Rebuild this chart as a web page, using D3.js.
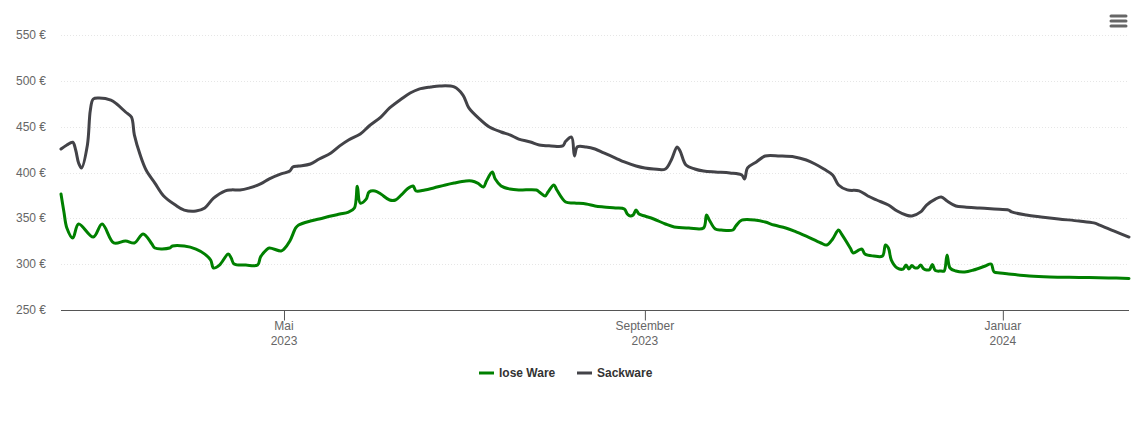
<!DOCTYPE html>
<html>
<head>
<meta charset="utf-8">
<script src="https://cdn.jsdelivr.net/npm/d3@7"></script>
<style>
  body { margin: 0; background: #fff; }
  text { font-family: "Liberation Sans", Arial, sans-serif; }
</style>
</head>
<body>
<div id="viz"></div>
<script>
// price history, day offsets counted from the start date
const startDate = new Date(2023, 1, 14);
const endDate = new Date(2024, 1, 13);

const loseDays = [0,1,2,4,6,11,14,18,22,25,28,31,32,37,38,42,46,49,51,52,54,57,58,59,63,67,68,70,71,75,76,78,80,81,85,88,92,95,98,100,101,102,104,105,107,109,112,114,116,118,120,121,124,127,131,134,138,140,142,144,145,147,148,150,153,156,162,163,165,166,168,169,172,175,179,182,185,189,192,193,194,195,196,197,199,202,206,209,214,219,220,221,223,225,229,230,232,237,240,243,247,250,254,259,261,263,265,266,269,270,272,273,274,277,280,281,282,283,285,287,288,289,290,291,292,293,294,295,296,297,298,300,301,302,303,305,308,311,315,317,318,320,323,330,337,347,357,364];
const loseValues = [376.5,357,339.5,328.5,343.8,329.6,343.8,323.1,325.3,323.1,333,322,317.6,317.6,319.8,319.8,316.5,311,304.5,295.8,299,311,306.7,300.2,299,299,307.8,315.5,317.6,314.4,316.5,325.3,339.5,342.7,347.1,349.3,352.5,354.7,356.9,361.3,385,366.7,371,378.7,379.8,376.5,370,370,375.5,382,385.3,379.8,380.9,383.1,386.4,388.5,390.7,390.7,388.5,384.2,390.7,400.5,392.9,385.3,382,380.9,380.9,378.7,374.4,378.7,386.4,380.9,367.8,366.7,365.6,363.5,362.4,361.3,360.2,354.7,352.5,353.6,359.1,354.7,352.5,349.3,343.8,340.6,339.5,339.5,353.6,348,338.4,337.3,337.3,341.6,348,348,346,342.7,339.5,336,330.5,323.1,320.9,327.5,337.3,333,317.6,312.2,315.5,316.5,311,308.9,308.9,320.9,317.6,304.5,295.8,294.7,299,294.7,298.5,296,296,299,295,293.6,294,299.6,293,292.5,292.5,310,295.8,292.5,291.5,293.6,298,300.2,291.5,290.4,289.3,287.1,286,285.5,285,284.4];

const sackDays = [0,2,4,5,6,7,9,10,11,13,17,19,22,24,25,27,29,32,35,39,42,46,49,52,56,58,61,64,68,71,75,78,79,81,85,88,92,95,98,102,105,109,112,116,119,122,126,129,134,137,139,143,146,150,153,156,160,163,167,171,172,174,175,176,179,182,185,189,192,196,199,202,206,208,210,211,213,216,219,223,228,232,233,234,237,240,245,250,254,257,260,263,265,268,272,275,278,282,285,288,290,293,295,298,300,302,305,308,313,318,323,324,329,334,340,347,352,354,359,364];
const sackValues = [425.6,430,433,424.5,410.4,405,430,468,480.2,481.3,479,474.7,466,460.5,441,419,402.7,388.5,374.4,364.5,359,358,361.3,372,380,381,381,383,387.5,393,398.4,401.6,406,407,409.3,414.7,421.3,429,435.5,442,450.7,460.5,470.4,480.2,486.7,491,493.3,494.4,493.3,484.5,470.4,457.3,449.6,444.2,441,436.5,433.3,430,429,429,434,438.7,418,428,427.8,425.6,421.3,415.8,411.5,407.1,404.9,403.8,403.8,413.6,427.8,423.5,408.2,403.8,401.6,400.5,399.5,397.3,393,405,411.5,418,418,417,413.6,409.3,403.8,397.3,386.4,381,380,374.4,370,364.5,358,353.6,352.5,357,364.5,371,373.3,368.9,363.5,362.4,361.3,360.2,359,357,353.6,351.5,349.3,347.1,345,342.7,336,329.6];

const yTicks = [250, 300, 350, 400, 450, 500, 550];
const xTicks = [new Date(2023, 4, 1), new Date(2023, 8, 1), new Date(2024, 0, 1)];
const monthNames = ["Januar","Februar","März","April","Mai","Juni","Juli","August","September","Oktober","November","Dezember"];

const seriesNames = ["lose Ware", "Sackware"];
const seriesColors = ["#008000", "#434348"];

const width = 1140, height = 434;
const margin = {left: 61, right: 11, top: 35, bottom: 124};

const svg = d3.select("#viz")
  .append("svg")
  .attr("width", width)
  .attr("height", height);

function toDate(d) {
  return d3.timeDay.offset(startDate, d);
}

const x = d3.scaleTime()
  .domain([startDate, endDate])
  .range([margin.left, width - margin.right]);

const y = d3.scaleLinear()
  .domain([250, 550])
  .range([height - margin.bottom, margin.top]);

// grid
svg.append("g")
  .selectAll("line")
  .data(yTicks.filter(t => t > 250))
  .enter()
  .append("line")
  .attr("x1", margin.left)
  .attr("x2", width - margin.right)
  .attr("y1", d => Math.round(y(d)) + 0.5)
  .attr("y2", d => Math.round(y(d)) + 0.5)
  .attr("stroke", "#e6e6e6")
  .attr("stroke-dasharray", "1,2");

// y labels
svg.append("g")
  .selectAll("text")
  .data(yTicks)
  .enter()
  .append("text")
  .attr("x", 46)
  .attr("y", d => y(d) + 4)
  .attr("text-anchor", "end")
  .attr("font-size", 12)
  .attr("fill", "#666")
  .text(d => d + " €");

// x axis
const xAxis = svg.append("g")
  .attr("transform", `translate(0,${Math.round(y(250)) + 0.5})`)
  .call(d3.axisBottom(x).tickValues(xTicks).tickSize(10).tickFormat(""));
xAxis.select(".domain").attr("stroke", "#555").attr("d", `M${margin.left},0H${width - margin.right}`);
xAxis.selectAll(".tick line").attr("stroke", "#555");

const xLabels = svg.append("g")
  .selectAll("text")
  .data(xTicks)
  .enter()
  .append("text")
  .attr("x", d => x(d))
  .attr("text-anchor", "middle")
  .attr("font-size", 12)
  .attr("fill", "#666");
xLabels.append("tspan").attr("x", d => x(d)).attr("y", 330).text(d => monthNames[d.getMonth()]);
xLabels.append("tspan").attr("x", d => x(d)).attr("y", 345).text(d => d.getFullYear());

// lines
const line = d3.line()
  .x(d => x(toDate(d[0])))
  .y(d => y(d[1]))
  .curve(d3.curveCatmullRom.alpha(0.5));

const series = [
  d3.zip(loseDays, loseValues),
  d3.zip(sackDays, sackValues)
];

svg.append("g")
  .selectAll("path")
  .data(series)
  .enter()
  .append("path")
  .attr("d", line)
  .attr("fill", "none")
  .attr("stroke", (d, i) => seriesColors[i])
  .attr("stroke-width", 3)
  .attr("stroke-linejoin", "round")
  .attr("stroke-linecap", "round");

// legend
const legendX = [479, 577];
const legend = svg.append("g")
  .selectAll("g")
  .data(seriesNames)
  .enter()
  .append("g")
  .attr("transform", (d, i) => `translate(${legendX[i]},373)`);
legend.append("line")
  .attr("x1", 0).attr("x2", 15)
  .attr("stroke", (d, i) => seriesColors[i])
  .attr("stroke-width", 3);
legend.append("text")
  .attr("x", 20)
  .attr("y", 4)
  .attr("font-size", 12)
  .attr("font-weight", "bold")
  .attr("fill", "#333")
  .text(d => d);

// menu icon
svg.append("g")
  .selectAll("line")
  .data([16, 21, 26])
  .enter()
  .append("line")
  .attr("x1", 1111).attr("x2", 1126)
  .attr("y1", d => d).attr("y2", d => d)
  .attr("stroke", "#666")
  .attr("stroke-width", 3)
  .attr("stroke-linecap", "round");
</script>
</body>
</html>
